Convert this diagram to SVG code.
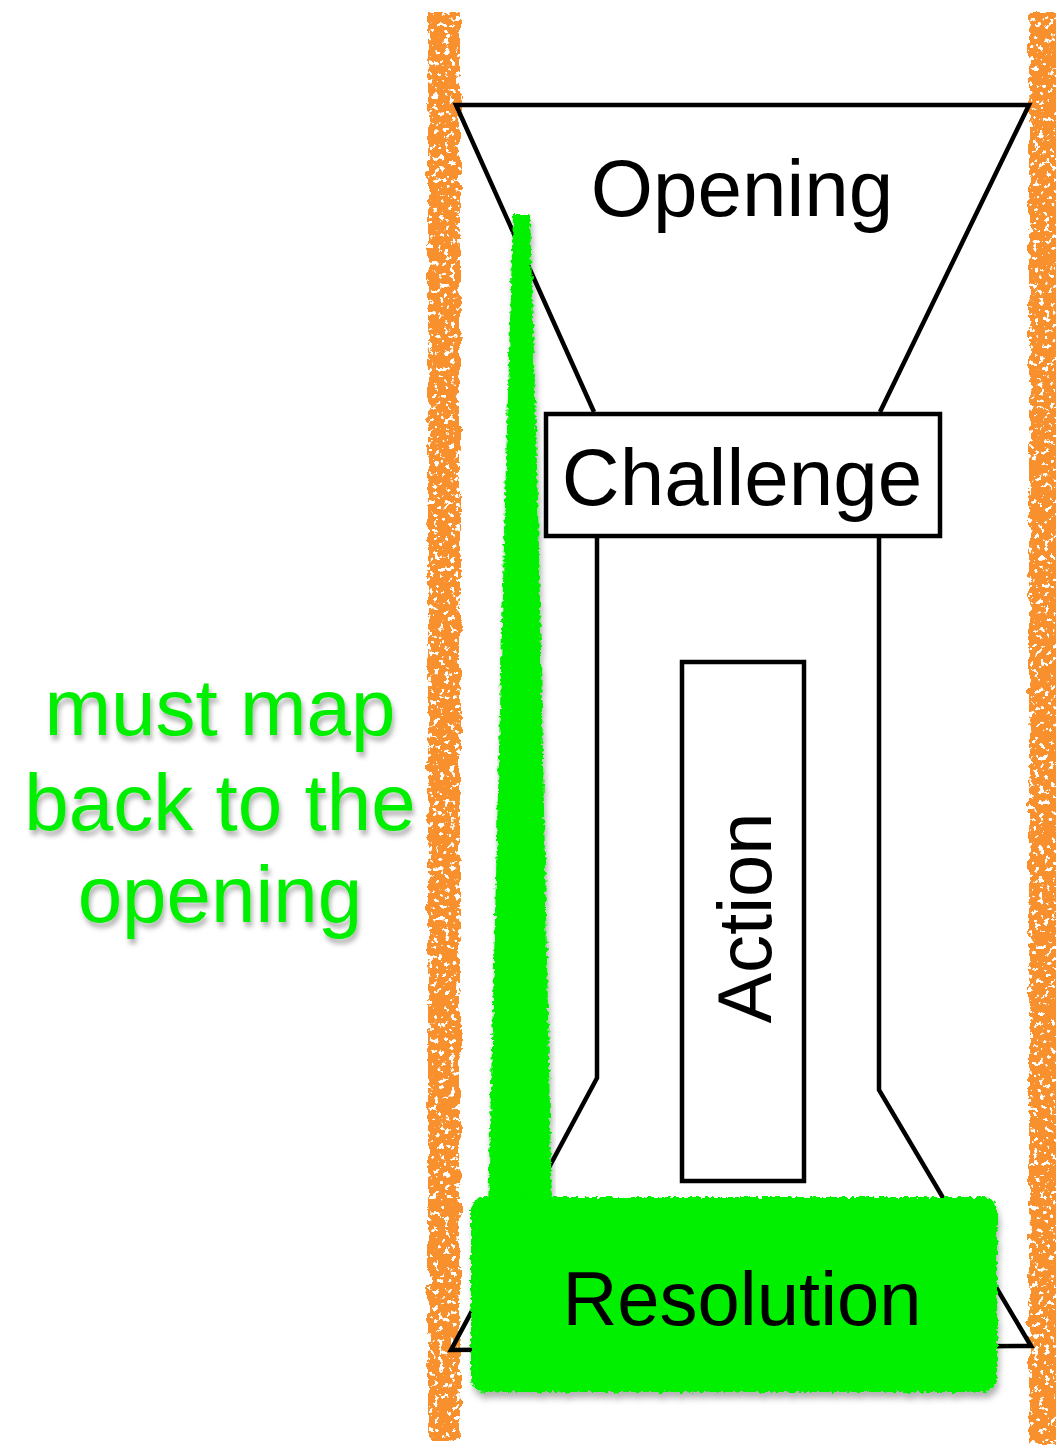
<svg xmlns="http://www.w3.org/2000/svg" width="1056" height="1445" viewBox="0 0 1056 1445">
  <defs>
    <style>
      .ln { fill: none; stroke: #000; stroke-width: 4.5; stroke-linejoin: miter; }
      .box { fill: #fff; stroke: #000; stroke-width: 4.5; }
      .lbl { font-family: "Liberation Sans", Arial, sans-serif; fill: #000; text-anchor: middle; }
      .note { font-family: "Liberation Sans", Arial, sans-serif; fill: #00ee00; text-anchor: middle; font-size: 80px; }
      .orange { fill: #f8902e; }
      .green { fill: #00f000; }
    </style>
    <filter id="chalk" x="-20%" y="-2%" width="140%" height="104%">
      <feTurbulence type="fractalNoise" baseFrequency="0.07" numOctaves="3" seed="3" result="n1"/>
      <feDisplacementMap in="SourceGraphic" in2="n1" scale="10" xChannelSelector="R" yChannelSelector="G" result="d"/>
      <feTurbulence type="fractalNoise" baseFrequency="0.18" numOctaves="3" seed="7" result="n2"/>
      <feColorMatrix in="n2" type="matrix" values="0 0 0 0 0  0 0 0 0 0  0 0 0 0 0  0 0 0 -25 16.5" result="holes"/>
      <feComposite in="d" in2="holes" operator="in"/>
    </filter>
    <filter id="rough" x="-5%" y="-5%" width="110%" height="115%">
      <feTurbulence type="fractalNoise" baseFrequency="0.25" numOctaves="2" seed="5" result="n"/>
      <feDisplacementMap in="SourceGraphic" in2="n" scale="6" xChannelSelector="R" yChannelSelector="G" result="d"/>
      <feGaussianBlur in="d" stdDeviation="3" result="b"/>
      <feOffset in="b" dx="2" dy="6" result="o"/>
      <feFlood flood-color="#000" flood-opacity="0.3"/>
      <feComposite in2="o" operator="in" result="sh"/>
      <feMerge><feMergeNode in="sh"/><feMergeNode in="d"/></feMerge>
    </filter>
    <filter id="tshadow" x="-10%" y="-10%" width="120%" height="130%">
      <feDropShadow dx="2" dy="5" stdDeviation="2.5" flood-color="#000" flood-opacity="0.3"/>
    </filter>
  </defs>

  <rect width="1056" height="1445" fill="#fff"/>

  <!-- orange chalk bars -->
  <g id="boundaries" filter="url(#chalk)">
    <rect class="orange" x="428" y="12" width="32" height="1428"/>
    <rect class="orange" x="1029" y="12" width="30" height="1433"/>
  </g>

  <!-- story outline -->
  <g id="opening">
    <polyline class="ln" points="594,412 456,105 1029,105 880,412"/>
    <text class="lbl" x="742" y="216" font-size="80">Opening</text>
  </g>

  <g id="body">
    <polyline class="ln" points="597,537 597,1078 451,1350 1031,1346 879,1090 879,537"/>
  </g>

  <g id="challenge">
    <rect class="box" x="546" y="414" width="394" height="122"/>
    <text class="lbl" x="742" y="505" font-size="80">Challenge</text>
  </g>

  <g id="action">
    <rect class="box" x="682" y="662" width="122" height="519"/>
    <text class="lbl" transform="translate(771,918) rotate(-90)" font-size="76">Action</text>
  </g>

  <!-- green connector back to the opening -->
  <g id="connectors" filter="url(#rough)">
    <polygon class="green" points="513,214 530,214 538,500 552,1210 488,1210 505,500"/>
  </g>

  <g id="resolution">
    <rect class="green" x="471" y="1197" width="526" height="195" rx="14" filter="url(#rough)"/>
    <text class="lbl" x="742" y="1325" font-size="76">Resolution</text>
  </g>

  <g id="note" filter="url(#tshadow)">
    <text class="note" x="220" y="735">must map</text>
    <text class="note" x="220" y="830">back to the</text>
    <text class="note" x="220" y="922">opening</text>
  </g>
</svg>
